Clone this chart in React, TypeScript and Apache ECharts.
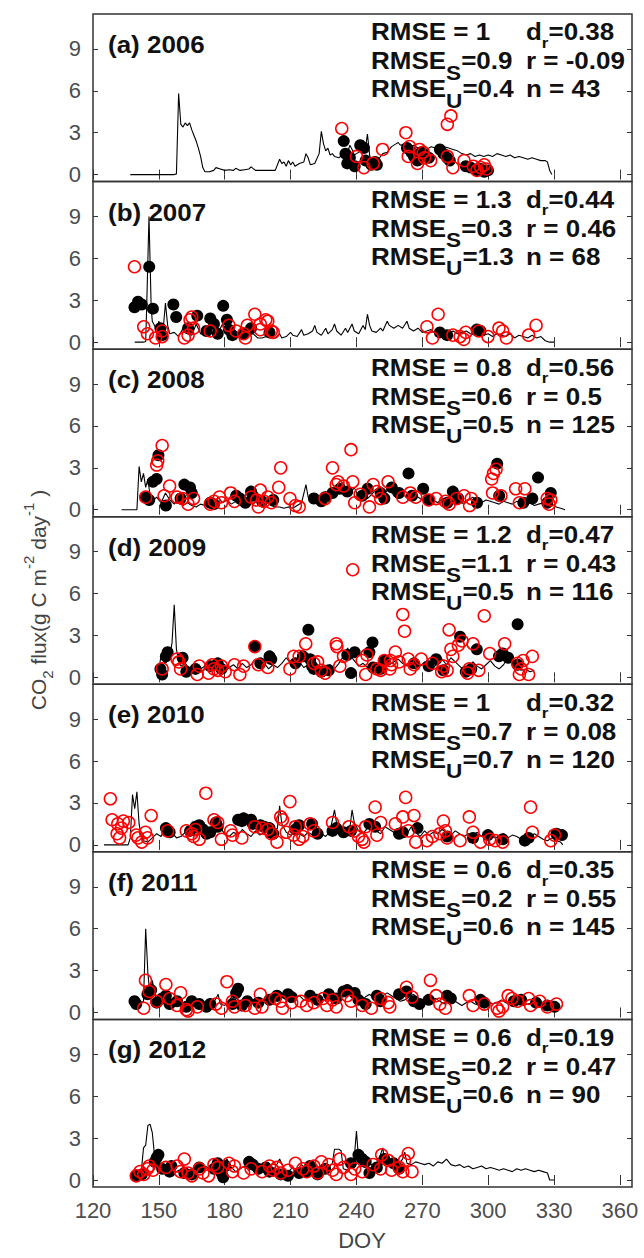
import React, { useEffect, useRef } from "react";
import * as echarts from "echarts";

const FONT = '"Liberation Sans", Arial, Helvetica, sans-serif';

const panelLabels = ["(a) 2006", "(b) 2007", "(c) 2008", "(d) 2009", "(e) 2010", "(f) 2011", "(g) 2012"];
const xTicks = [120, 150, 180, 210, 240, 270, 300, 330, 360];
const yTicks = [0, 3, 6, 9];

const statRMSE = ["1", "1.3", "0.8", "1.2", "1", "0.6", "0.6"];
const statRMSES = ["0.9", "0.3", "0.6", "1.1", "0.7", "0.2", "0.2"];
const statRMSEU = ["0.4", "1.3", "0.5", "0.5", "0.7", "0.6", "0.6"];
const statDr = ["0.38", "0.44", "0.56", "0.47", "0.32", "0.35", "0.19"];
const statR = ["-0.09", "0.46", "0.5", "0.43", "0.08", "0.55", "0.47"];
const statN = ["43", "68", "125", "116", "120", "145", "90"];

// ---------- 2006 ----------
const line2006 = [[137,0],[157,0],[158,0.05],[159,5.8],[160,3.6],[161,3.4],[162,3.7],[163,3.5],[164,3.7],[165,3.2],[166,2.8],[167,2.4],[168,1.9],[169,1.3],[170,0.5],[171,0.2],[173,0.2],[175,0.3],[176,0.5],[178,0.4],[180,0.3],[182,0.35],[184,0.3],[185,0.45],[187,0.3],[189,0.35],[191,0.4],[192,0.55],[194,0.3],[197,0.3],[200,0.3],[203,0.3],[205,1.1],[206,0.8],[207,0.9],[208,0.6],[209,1.0],[210,0.7],[211,0.9],[212,0.6],[214,0.8],[216,0.9],[217,1.5],[218,1.2],[219,0.7],[221,0.8],[223,1.5],[224,3.1],[225,2.2],[226,1.7],[227,1.9],[228,1.4],[229,1.5],[230,1.3],[232,1.2],[234,1.5],[236,1.6],[237,2.1],[238,1.8],[239,1.4],[240,1.5],[242,1.7],[244,1.8],[245,2.9],[246,1.4],[247,0.6],[248,0.9],[250,1.1],[252,1.5],[254,1.6],[256,2.0],[258,2.2],[259,2.3],[260,2.1],[262,2.2],[264,2.0],[266,2.1],[268,1.9],[270,2.0],[272,1.8],[274,2.0],[276,1.9],[278,1.8],[280,2.0],[282,1.9],[284,1.8],[286,1.7],[288,1.5],[290,1.4],[292,1.5],[294,1.3],[296,1.4],[298,1.3],[300,1.4],[302,1.3],[304,1.5],[306,1.4],[308,1.3],[310,1.4],[312,1.2],[314,1.3],[316,1.2],[318,1.1],[320,1.2],[322,1.1],[324,1.0],[326,1.0],[327,0.9],[328,0.3],[329,0]];
const black2006 = [[234.2,2.4],[235,1.5],[235.8,0.8],[237,1.2],[239.2,0.6],[241.7,2.1],[243.4,1.9],[244.2,1.0],[246.8,0.7],[248.5,0.9],[249.3,0.7],[263,1.9],[265,1.6],[266.2,1.3],[267.8,1.0],[269.5,1.6],[271,1.4],[273,1.2],[278,1.8],[279.6,1.5],[281.3,1.2],[282.5,1.0],[289.8,0.6],[292,0.5],[294.8,0.3],[296.5,0.4],[298.2,0.2],[299.9,0.3]];
const red2006 = [[233.3,3.3],[240,1.3],[243.4,0.5],[247.6,0.8],[251.9,1.8],[262.5,3.0],[264.2,2.0],[263.6,1.3],[267.8,0.8],[268.7,1.8],[270.4,1.6],[273.8,1.0],[271,1.2],[281.4,3.6],[283,4.2],[281.4,1.3],[283.9,0.5],[289,1.0],[293.2,0.6],[294.9,0.3],[296.6,0.5],[298.2,0.7],[299.1,0.4]];

// ---------- 2007 ----------
const line2007 = [[139,0],[143,0],[144,0.05],[144.5,2.8],[145.5,9.0],[146.5,2.5],[147,1.5],[148,1.2],[149,0.8],[150,1.5],[151,0.7],[152,1.0],[153,2.8],[154,1.2],[155,0.6],[157,0.7],[159,0.4],[161,1.0],[163,0.6],[165,0.5],[167,1.3],[169,0.6],[171,0.5],[173,0.8],[175,0.5],[177,0.7],[179,1.3],[181,0.6],[183,0.9],[185,0.6],[187,0.5],[189,0.7],[191,0.5],[193,0.6],[195,0.3],[197,0.3],[199,0.4],[201,0.3],[203,0.3],[205,0.6],[206,0.3],[208,0.4],[210,0.7],[211,0.5],[213,0.4],[215,0.9],[216,0.5],[218,0.6],[220,0.8],[221,1.2],[222,0.7],[224,0.5],[226,1.0],[227,0.6],[229,0.9],[230,1.3],[231,0.8],[233,0.5],[235,1.0],[236,0.7],[238,1.3],[239,0.8],[241,0.6],[243,1.2],[244,0.9],[245,2.0],[246,1.2],[247,0.8],[249,0.7],[251,1.0],[252,0.8],[254,1.5],[255,1.2],[257,1.0],[259,1.2],[261,1.0],[263,1.5],[264,1.0],[266,0.8],[268,1.0],[270,0.7],[272,0.8],[274,0.9],[276,0.6],[278,0.8],[280,0.7],[282,0.6],[284,0.8],[286,0.6],[288,0.7],[290,0.8],[292,0.6],[294,0.5],[296,0.7],[298,0.5],[300,0.6],[302,0.4],[304,0.6],[306,0.5],[308,0.4],[310,0.6],[312,0.3],[314,0.5],[316,0.4],[318,0.3],[320,0.5],[322,0.3],[324,0.4],[326,0.1],[328,0],[330,0]];
const black2007 = [[138.9,2.5],[140.5,2.9],[142.2,2.7],[145.6,5.4],[147.3,2.4],[150.7,1.0],[151.5,0.5],[156.6,2.7],[157.9,1.8],[163.3,1.0],[167.5,1.9],[171.7,0.8],[173.4,1.7],[175.1,1.3],[176.8,0.6],[179.3,2.6],[181,1.6],[181.9,0.9],[183.5,0.5],[188.6,0.6],[192,1.0],[200.4,0.7],[278,0.7],[281.3,0.5],[294.8,0.9],[296.5,0.8]];
const red2007 = [[138.9,5.4],[143.1,1.1],[144.8,0.6],[148.5,0.3],[151.5,0.4],[151.5,0.8],[161.6,0.3],[163.3,0.5],[164.2,1.6],[165,1.8],[165.8,1.0],[173.4,0.8],[181.9,1.2],[185.2,0.8],[188.6,0.6],[189.4,0.3],[190.3,1.2],[193.7,2.0],[196.2,1.3],[196.2,0.9],[198.7,1.6],[199.6,1.5],[201.2,0.8],[202.1,0.7],[272.1,1.1],[274.6,0.3],[277.2,2.0],[283.9,0.5],[287.2,0.4],[288.9,0.2],[289.8,0.7],[295.7,0.8],[299.9,0.4],[304.9,1.0],[306.6,0.8],[308.3,0.3],[318.4,0.5],[321.8,1.2]];

// ---------- 2008 ----------
const line2008 = [[133,0],[140,0],[141,3.1],[142,2.0],[143,2.6],[144,1.6],[145,2.2],[146,1.0],[147,0.6],[149,0.9],[151,0.5],[153,1.2],[155,0.7],[157,0.4],[159,0.8],[161,0.3],[163,0.5],[165,0.3],[167,0.2],[169,0.4],[171,0.3],[173,0.6],[175,0.4],[177,0.9],[179,0.5],[181,0.7],[183,0.4],[185,0.6],[187,0.3],[189,0.8],[191,0.5],[193,0.4],[195,0.7],[197,0.3],[199,0.6],[201,0.3],[203,0.2],[205,0.2],[207,0.1],[209,0.2],[211,0.1],[213,0.3],[215,0.5],[217,1.8],[218,0.9],[220,0.7],[222,1.0],[224,0.8],[226,1.3],[228,0.9],[230,1.5],[232,1.2],[234,2.0],[235,1.4],[237,1.1],[239,1.6],[241,0.9],[243,1.3],[245,0.8],[247,1.1],[249,1.5],[251,0.9],[253,1.2],[255,1.6],[257,1.0],[259,0.8],[261,1.1],[263,0.9],[265,0.7],[267,1.0],[269,0.8],[271,0.6],[273,0.9],[275,0.7],[277,0.5],[279,0.8],[281,0.6],[283,0.7],[285,0.5],[287,0.6],[289,0.4],[291,0.7],[293,0.9],[295,0.6],[297,0.5],[299,0.7],[301,0.6],[303,0.5],[305,0.4],[307,0.6],[309,0.5],[311,0.4],[313,0.6],[315,0.5],[317,0.4],[319,0.5],[321,0.3],[323,0.4],[325,0.5],[327,0.3],[329,0.4],[331,0.2],[333,0.1],[335,0]];
const black2008 = [[144,0.9],[145.6,0.7],[147.3,2.0],[149,2.2],[149.8,3.9],[153.2,0.3],[159.9,0.8],[161.6,1.8],[164.2,1.6],[165,1.2],[173.4,0.5],[175.1,0.4],[185.2,1.0],[186.9,0.8],[189.4,0.5],[192,1.3],[192.8,1.0],[197,0.6],[202.1,0.7],[220.6,0.8],[224,0.6],[225.7,0.9],[229.1,1.2],[232.5,1.5],[235.8,1.3],[242.6,1.0],[245.1,1.5],[251,1.2],[252.7,0.8],[256.1,1.6],[259.4,1.2],[263.7,2.6],[265.3,1.0],[270.4,1.5],[272.9,0.7],[281.4,0.5],[283.9,1.3],[286.4,0.8],[294.9,0.5],[304.1,3.3],[305,1.0],[316,0.5],[320.1,0.8],[322.7,2.3],[326.9,0.5],[328.5,1.2]];
const red2008 = [[144,0.9],[149,3.2],[149.5,3.5],[151.5,4.6],[152.4,1.0],[154.9,1.7],[158.3,0.9],[160.8,0.8],[163.3,0.4],[165.8,0.8],[173.4,0.4],[175.1,0.6],[177.6,0.9],[178.5,0.5],[182.7,1.2],[184.4,0.6],[192,0.9],[194.5,0.7],[195.3,0.2],[196.2,1.4],[197.9,0.6],[199.6,0.9],[201.2,0.5],[204.6,1.6],[205.5,3.0],[209.7,0.8],[212.2,0.3],[213.9,0.2],[225.7,0.8],[229.1,3.0],[230.8,1.8],[231.6,2.0],[234.1,1.7],[237.5,4.3],[238.3,2.0],[239.2,0.5],[241.7,1.1],[245.9,0.2],[247.6,1.8],[249.3,1.3],[251,0.8],[254.4,2.0],[261.1,0.9],[264.5,1.2],[267,0.9],[272.9,0.7],[276.3,0.8],[280.5,0.6],[282.2,0.4],[285.6,0.8],[289,1.0],[291.5,0.3],[292.3,0.8],[301.6,2.2],[302,1.2],[302.4,2.6],[303.6,2.9],[305.8,1.0],[312.5,1.5],[314.2,0.5],[316.7,1.5],[326.9,0.8],[327.7,0.4],[328.5,0.7]];

// ---------- 2009 ----------
const line2009 = [[149,0.3],[150,0.5],[151,1.6],[152,1.2],[153,1.0],[155,1.4],[156,2.5],[157,5.2],[158,2.0],[159,1.2],[160,0.8],[162,1.0],[164,0.6],[166,0.8],[168,0.5],[170,0.7],[172,0.9],[174,0.6],[176,0.8],[178,0.5],[180,0.4],[182,0.7],[184,0.9],[186,0.6],[188,1.0],[190,0.7],[192,0.9],[194,1.3],[196,0.8],[198,1.0],[200,0.6],[202,0.9],[204,0.7],[206,1.0],[208,1.4],[210,1.0],[212,0.8],[214,1.1],[216,0.7],[218,0.9],[220,0.6],[222,0.8],[224,0.5],[226,0.7],[228,0.9],[230,0.6],[232,1.0],[234,1.5],[236,2.1],[237,1.6],[239,1.2],[241,0.8],[243,1.0],[245,0.7],[247,0.9],[249,0.6],[251,0.8],[253,1.2],[255,0.9],[257,1.1],[259,1.3],[261,1.0],[263,0.8],[265,1.2],[267,1.0],[269,0.8],[271,1.1],[273,0.9],[275,0.7],[277,1.0],[279,1.3],[281,0.9],[283,1.4],[285,1.1],[287,0.8],[289,0.5],[291,0.7],[293,1.1],[295,0.8],[297,0.6],[299,0.9],[301,1.2],[303,0.8],[305,0.6],[307,0.9],[309,1.4],[311,1.0],[313,0.7],[315,0.5],[317,0.6],[319,0.4],[321,0.5]];
const black2009 = [[150.7,0.6],[151.5,0.2],[153.2,1.5],[154,1.8],[160.8,1.4],[162.5,0.4],[166.7,0.6],[173.4,0.8],[176.8,1.0],[178.5,0.6],[193.7,2.2],[196.2,1.0],[200.4,1.5],[201.2,1.3],[212.2,1.0],[215.6,1.5],[218.1,3.4],[218.9,1.3],[219.8,0.8],[220.6,0.6],[224,0.4],[227.4,0.5],[235.8,1.6],[237.5,0.3],[239.2,1.8],[245.9,1.8],[247.3,2.5],[247.6,0.7],[251,0.6],[252.7,1.2],[266.2,1.0],[272.9,0.8],[276.3,1.3],[279.6,0.5],[287.2,2.9],[289.8,0.4],[292.3,0.6],[294.8,2.0],[304.9,1.5],[306.6,1.7],[309.1,1.4],[313.4,3.8],[313.4,0.9]];
const red2009 = [[151.5,0.6],[158.3,1.3],[159.1,1.1],[159.9,0.6],[167.5,0.2],[168.4,0.8],[172.6,0.3],[174.3,0.9],[175.1,0.6],[176.8,0.5],[178.5,0.8],[180.2,0.4],[184.4,0.9],[186.9,0.2],[188.6,0.8],[193.7,2.2],[195.3,0.9],[199.6,0.7],[209.7,0.6],[211.4,1.5],[213.9,1.5],[216.9,2.4],[220.6,1.0],[222.3,1.1],[224,0.5],[225.7,0.3],[230.8,2.4],[231.1,2.2],[232.4,0.8],[234.1,1.5],[238.3,7.7],[242.6,1.2],[244.2,0.2],[244.8,1.6],[249.3,0.6],[251,0.5],[252.7,1.2],[255.2,0.6],[255.5,1.2],[256,0.9],[257.7,1.8],[259.4,1.1],[261.1,4.5],[261.9,3.3],[263.6,1.3],[264.5,0.6],[266.2,0.9],[269.5,1.3],[274.6,1.0],[278.8,0.4],[279.6,0.8],[281.3,0.5],[282.2,3.4],[283,2.0],[283.9,1.5],[286.4,2.3],[288.1,2.6],[290.6,0.3],[291.4,0.6],[293.1,2.4],[295.7,0.5],[298.2,4.4],[300.7,1.7],[307.5,2.4],[313.4,1.0],[314.2,0.2],[315,0.6],[315.9,1.2],[318.4,0.2],[320.1,1.5]];

// ---------- 2010 ----------
const line2010 = [[125,0],[136,0],[137,0.5],[138,3.6],[139,2.6],[140,3.8],[141,1.5],[142,0.6],[143,0.3],[145,0.2],[147,0.5],[149,0.8],[151,0.6],[153,1.3],[154,1.0],[156,0.9],[158,0.5],[160,0.6],[162,0.9],[164,0.7],[166,1.2],[168,0.8],[170,1.0],[172,1.3],[174,0.7],[176,1.6],[178,1.2],[180,0.8],[182,0.6],[184,0.9],[186,0.7],[188,1.1],[190,0.8],[192,0.6],[194,1.0],[196,0.7],[198,0.9],[200,0.5],[202,0.8],[204,1.2],[205,2.8],[206,1.5],[208,0.9],[210,0.7],[212,1.0],[214,0.8],[216,0.6],[218,0.9],[220,0.7],[222,0.5],[224,0.8],[226,0.6],[228,1.0],[230,2.5],[231,1.5],[233,0.9],[235,0.7],[237,1.2],[238,2.5],[239,1.6],[241,1.0],[243,0.8],[245,1.2],[247,1.5],[249,1.0],[251,0.8],[253,1.3],[255,1.1],[257,0.9],[259,0.7],[261,1.0],[263,0.8],[265,1.3],[267,0.9],[269,0.6],[271,1.0],[273,0.7],[275,0.9],[277,0.8],[279,1.1],[281,0.9],[283,0.7],[285,1.0],[287,0.8],[289,0.6],[291,0.8],[293,0.7],[295,0.9],[297,0.6],[299,0.8],[301,0.7],[303,0.5],[305,0.6],[307,0.8],[309,0.5],[311,0.7],[313,0.6],[315,0.4],[317,0.6],[319,0.5],[321,0.8],[323,0.6],[325,0.4],[327,0.3],[329,0.5],[331,0.3],[333,0.2],[334,0]];
const black2010 = [[153.2,1.2],[154,1.0],[154.9,0.9],[164.2,1.0],[166.7,1.3],[168.4,1.4],[170.1,1.1],[171.7,0.8],[173.4,0.9],[176,1.6],[176.8,1.3],[186.1,1.8],[187.8,1.7],[188.6,1.9],[192,1.8],[192.8,1.5],[196.2,1.4],[197.9,1.3],[200.4,1.2],[202.1,0.8],[212.2,1.1],[213.9,1.4],[219.8,1.5],[222.3,0.8],[229.1,1.0],[230.8,1.2],[234.1,0.9],[237.5,1.0],[245.9,1.5],[248.5,1.3],[259.4,0.8],[261.1,0.9],[267.8,1.2],[281.3,0.6],[293.1,0.5],[299.9,0.7],[306.6,0.4],[316.7,0.3],[318.4,0.5],[331.1,0.8],[333.6,0.7]];
const red2010 = [[127.9,3.3],[128.7,1.8],[131.3,1.5],[131,0.8],[132.1,0.5],[133,1.2],[133.8,1.7],[136.3,1.6],[139.7,0.7],[140.5,0.5],[142.2,0.2],[143.9,0.9],[144.8,0.5],[146.5,2.1],[154,1.0],[162.5,1.0],[165,0.8],[165.8,0.6],[166.7,1.1],[168.4,0.4],[171.4,3.7],[175.1,1.8],[176.8,1.6],[178.5,0.4],[182.7,1.0],[183.5,0.7],[187.8,0.5],[193.7,1.3],[197,1.2],[199.6,1.1],[201.2,0.8],[203.8,0.2],[205.5,2.0],[206.3,1.8],[208,0.9],[209.7,3.1],[211.4,0.7],[212.2,1.3],[213.9,0.4],[215.6,0.6],[218.9,1.5],[220.6,1.0],[229.1,1.6],[236.6,1.3],[239.2,1.0],[240.9,0.6],[242.6,0.4],[243.4,0.2],[244.2,1.3],[248.5,2.7],[249.3,0.7],[251,1.6],[257.7,1.5],[261.1,2.0],[262.4,3.4],[263.6,1.0],[266.2,2.1],[267,0.2],[272.1,0.3],[274.6,0.6],[278,0.8],[279.6,1.7],[280.5,1.0],[281.3,0.5],[287.2,0.3],[291.4,2.0],[293.1,0.9],[296.5,0.2],[300.7,0.4],[303.2,0.3],[306.6,0.2],[319.3,2.7],[320.1,0.9],[328.5,0.3],[330.2,0.7]];

// ---------- 2011 ----------
const line2011 = [[137,0.7],[139,0.5],[141,0.6],[143,0.8],[144,6.0],[145,2.8],[146,1.2],[147,2.3],[148,1.5],[149,0.9],[151,1.2],[153,0.7],[155,0.9],[157,0.5],[159,0.7],[161,0.4],[163,0.6],[165,0.5],[167,0.8],[169,0.4],[171,0.6],[173,0.5],[175,0.7],[177,1.3],[178,0.6],[180,0.5],[182,0.8],[184,1.4],[186,0.9],[188,0.7],[190,0.6],[192,0.8],[194,1.0],[196,0.7],[198,0.9],[200,1.2],[202,1.0],[204,0.8],[206,1.1],[208,0.9],[210,0.7],[212,1.0],[214,1.2],[216,0.9],[218,0.8],[220,1.1],[222,1.3],[224,1.0],[226,0.8],[228,1.4],[230,1.1],[232,0.9],[234,1.5],[236,1.6],[238,1.2],[240,1.0],[242,0.8],[244,1.1],[246,1.3],[248,1.0],[250,0.9],[252,1.2],[254,1.4],[256,1.2],[258,1.0],[260,0.8],[262,0.9],[264,1.1],[266,1.3],[268,1.0],[270,0.8],[272,0.7],[274,0.9],[276,1.0],[278,0.8],[280,0.6],[282,0.8],[284,0.9],[286,0.7],[288,0.5],[290,0.7],[292,0.8],[294,0.6],[296,0.5],[298,0.7],[300,0.8],[302,0.6],[304,0.7],[306,0.9],[308,0.7],[310,0.6],[312,0.8],[314,0.7],[316,0.5],[318,0.6],[320,0.7],[322,0.5],[324,0.6],[326,0.4],[328,0.5],[330,0.3],[332,0.2]];
const black2011 = [[138.9,0.8],[139.7,0.6],[144.8,1.3],[146.5,1.6],[149,0.7],[151.5,1.0],[153.2,1.2],[154.9,0.6],[158.3,0.8],[162.5,0.4],[165,0.8],[168.4,0.6],[171.7,0.4],[173.4,0.6],[183.5,0.6],[185.2,1.4],[186.1,1.7],[187.8,0.5],[190.3,0.8],[195.3,0.7],[200.4,0.9],[203.8,1.2],[208.8,1.3],[210.5,1.1],[218.9,1.2],[222.3,0.9],[227.4,1.3],[230.8,1.0],[234.1,1.5],[235.8,1.6],[239.2,1.4],[240.9,0.9],[244.2,0.6],[249.3,1.2],[251,0.8],[259.4,1.3],[262.8,1.5],[266.2,0.8],[268.7,0.6],[272.9,0.9],[281.3,1.2],[283,1.0],[296.5,0.9],[298.2,0.7],[311.7,0.8],[315,0.9],[321.8,0.7],[326.9,0.5],[330.2,0.4]];
const red2011 = [[143.1,0.3],[143.9,2.3],[145.6,1.5],[149,0.8],[153.2,2.0],[154.9,1.0],[158.3,0.5],[159.9,1.4],[162.5,0.2],[163.3,0.1],[167.5,0.4],[176,0.6],[178.5,0.3],[181,2.2],[183.5,0.8],[184.4,0.4],[189.4,0.5],[193.7,0.3],[196.2,1.3],[197,0.4],[202.9,1.0],[205.5,0.8],[206.3,0.3],[210.5,0.7],[214.7,0.8],[217.3,0.5],[220.6,0.7],[224.8,1.0],[226.5,0.5],[229.1,0.9],[230.8,0.4],[235.8,1.2],[237.5,0.8],[242.6,0.5],[246.8,0.3],[251,1.0],[254.4,0.7],[255.2,0.4],[262.8,1.8],[265.3,1.1],[273.7,2.3],[276.3,1.2],[278,0.6],[280.5,0.3],[291.4,1.2],[293.1,0.5],[298.2,0.6],[304.1,0.3],[304.9,0.1],[306.6,0.4],[309.1,1.2],[310.8,1.0],[313.4,0.8],[318.4,1.0],[319.3,0.5],[323.5,0.8],[326.9,0.4],[331.1,0.6]];

// ---------- 2012 ----------
const line2012 = [[138,0.2],[140,0.4],[142,0.6],[143,2.3],[144,2.5],[145,3.9],[146,4.0],[147,3.4],[148,1.8],[149,1.2],[151,0.8],[153,0.6],[155,0.9],[157,0.5],[159,0.7],[161,0.4],[163,0.6],[165,0.8],[167,0.5],[169,0.7],[171,1.0],[173,0.8],[175,1.3],[177,0.9],[179,0.7],[181,1.5],[183,0.9],[185,0.6],[187,0.8],[189,1.0],[191,0.7],[193,0.9],[195,0.6],[197,0.8],[199,1.1],[201,0.7],[203,0.9],[205,1.5],[207,0.8],[209,0.6],[211,0.9],[213,0.7],[215,1.1],[217,0.8],[219,0.6],[221,0.9],[223,0.7],[225,0.5],[227,0.8],[229,1.2],[230,2.2],[232,2.2],[233,2.1],[234,0.8],[236,0.7],[238,1.0],[239,1.6],[240,3.5],[241,1.4],[242,1.0],[244,0.9],[246,1.2],[248,1.0],[250,1.4],[252,2.3],[253,1.2],[255,1.0],[257,1.3],[259,1.1],[261,1.5],[262,2.0],[263,1.2],[265,1.1],[267,1.3],[269,1.2],[271,1.1],[273,1.2],[275,1.0],[277,1.3],[279,1.2],[281,1.5],[283,1.1],[285,1.0],[287,1.1],[289,0.9],[291,1.0],[293,0.8],[295,0.9],[297,1.0],[299,0.8],[301,0.9],[303,0.8],[305,0.7],[307,0.8],[309,0.7],[311,0.6],[313,0.8],[315,0.7],[317,0.8],[319,0.7],[321,0.6],[323,0.7],[325,0.6],[327,0.5],[328,0],[330,0]];
const black2012 = [[139.7,0.3],[142.2,0.4],[148.1,1.3],[149,1.6],[149.8,1.8],[151.5,0.8],[154.9,0.6],[155.7,1.0],[161.6,0.5],[165,0.4],[168.4,0.9],[175.1,0.8],[176.8,1.2],[178.5,0.5],[179.3,0.2],[180.2,1.0],[191.1,1.3],[192.8,1.1],[195.3,0.8],[198.7,0.9],[200.4,0.6],[205.5,0.4],[208.8,0.3],[213.9,0.5],[217.3,0.6],[218.9,1.0],[222.3,0.4],[225.7,0.8],[237.5,1.2],[240.9,1.8],[242.6,1.5],[244.2,1.3],[245.9,0.5],[249.3,0.9],[252.7,1.5],[256.9,1.2],[259.4,0.8]];
const red2012 = [[139.7,0.3],[141.4,0.6],[143.1,0.4],[144.8,0.8],[145.6,1.0],[147.3,0.7],[153.2,0.9],[158.3,1.0],[159.9,0.6],[161.6,1.5],[163.3,0.5],[165,0.3],[168.4,0.8],[170.1,0.5],[172.6,0.3],[175.1,1.1],[176.8,0.9],[181.9,1.2],[183.5,0.6],[184.4,1.0],[188.6,0.5],[192,0.8],[197,0.6],[200.4,1.0],[202.1,0.7],[203.8,0.9],[205.5,0.5],[208.8,0.7],[212.2,1.2],[215.6,0.8],[217.3,0.6],[220.6,1.0],[222.3,0.5],[224,1.3],[227.4,1.1],[229.1,0.7],[230.8,0.4],[232.4,1.5],[234.1,0.9],[237.5,0.4],[239.2,0.8],[242.6,0.6],[247.6,1.1],[251,0.8],[251.5,1.8],[254.4,1.4],[256,0.7],[259.4,0.9],[261.1,0.6],[261.9,1.4],[263.6,1.9],[265.3,0.6]];

const modelLines = [line2006, line2007, line2008, line2009, line2010, line2011, line2012];
const blackObs = [black2006, black2007, black2008, black2009, black2010, black2011, black2012];
const redObs = [red2006, red2007, red2008, red2009, red2010, red2011, red2012];

const PANEL_TOP = 14;
const PANEL_H = 167.57;
const LEFT = 93;
const WIDTH = 539;
const FRAME = "#333333";
const TICKTXT = "#4d4d4d";
const TXT_SCALE_X = 1.13;

function buildOption() {
  const grid: any[] = [];
  const xAxis: any[] = [];
  const yAxis: any[] = [];
  const series: any[] = [];
  const graphic: any[] = [];

  const mainTok = { fontSize: 23, fontWeight: "bold", fontFamily: FONT, fill: "#111", lineHeight: 20, verticalAlign: "top" };
  const subTok = { fontSize: 20, fontWeight: "bold", fontFamily: FONT, fill: "#111", lineHeight: 15, padding: [13, 0, 0, 0], verticalAlign: "top" };
  const smallSub = { fontSize: 15, fontWeight: "bold", fontFamily: FONT, fill: "#111", lineHeight: 14, padding: [14, 0, 0, 0], verticalAlign: "top" };
  const rich = { m: mainTok, s: subTok, r: smallSub };

  for (let i = 0; i < 7; i++) {
    const top = PANEL_TOP + i * PANEL_H;
    grid.push({ left: LEFT, top, width: WIDTH, height: PANEL_H, show: true, borderColor: FRAME, borderWidth: 1.5, backgroundColor: "transparent" });
    const tickStyle = { inside: true, length: 5, customValues: xTicks, lineStyle: { color: FRAME, width: 1 } };
    xAxis.push({
      gridIndex: i, type: "value", min: 120, max: 365.5, position: "bottom",
      axisLine: { show: false }, splitLine: { show: false },
      axisTick: tickStyle,
      axisLabel: { show: i === 6, customValues: xTicks, fontSize: 22, color: TICKTXT, fontFamily: FONT, margin: 13 },
    });
    xAxis.push({
      gridIndex: i, type: "value", min: 120, max: 365.5, position: "top",
      axisLine: { show: false }, splitLine: { show: false },
      axisTick: tickStyle, axisLabel: { show: false },
    });
    const yTickStyle = { inside: true, length: 5, customValues: yTicks, lineStyle: { color: FRAME, width: 1 } };
    yAxis.push({
      gridIndex: i, type: "value", min: -0.5, max: 11.5, position: "left",
      axisLine: { show: false }, splitLine: { show: false },
      axisTick: yTickStyle,
      axisLabel: { customValues: yTicks, fontSize: 22, color: TICKTXT, fontFamily: FONT, margin: 12 },
    });
    yAxis.push({
      gridIndex: i, type: "value", min: -0.5, max: 11.5, position: "right",
      axisLine: { show: false }, splitLine: { show: false },
      axisTick: yTickStyle, axisLabel: { show: false },
    });

    series.push({
      type: "line", xAxisIndex: 2 * i, yAxisIndex: 2 * i, data: modelLines[i],
      showSymbol: false, symbol: "none", lineStyle: { color: "#000", width: 1.1 }, z: 1, silent: true,
    });
    series.push({
      type: "scatter", xAxisIndex: 2 * i, yAxisIndex: 2 * i, data: blackObs[i],
      symbol: "circle", symbolSize: 12, itemStyle: { color: "#000", opacity: 1 }, z: 2, silent: true,
    });
    series.push({
      type: "scatter", xAxisIndex: 2 * i, yAxisIndex: 2 * i, data: redObs[i],
      symbol: "circle", symbolSize: 12,
      itemStyle: { color: "rgba(0,0,0,0)", borderColor: "#ff0000", borderWidth: 1.5, opacity: 1 }, z: 3, silent: true,
    });

    graphic.push({
      type: "text", x: 108, y: top + 31, z: 10, scaleX: TXT_SCALE_X,
      style: { text: panelLabels[i], fontSize: 23, fontWeight: "bold", fontFamily: FONT, fill: "#111", align: "left", verticalAlign: "middle" },
    });
    const rows = [
      [`{m|RMSE = ${statRMSE[i]}}`, `{m|d}{r|r}{m|=${statDr[i]}}`],
      [`{m|RMSE}{s|S}{m|=${statRMSES[i]}}`, `{m|r = ${statR[i]}}`],
      [`{m|RMSE}{s|U}{m|=${statRMSEU[i]}}`, `{m|n = ${statN[i]}}`],
    ];
    const centers = [17, 46, 74];
    rows.forEach((row, k) => {
      graphic.push({ type: "text", x: 371, y: top + centers[k] - 10, z: 10, scaleX: TXT_SCALE_X, style: { text: row[0], rich, align: "left", verticalAlign: "top" } });
      graphic.push({ type: "text", x: 526, y: top + centers[k] - 10, z: 10, scaleX: TXT_SCALE_X, style: { text: row[1], rich, align: "left", verticalAlign: "top" } });
    });
  }

  graphic.push({
    type: "text", x: 33, y: 600, rotation: Math.PI / 2, z: 10,
    style: {
      text: "{m|CO}{b|2}{m| flux(g C m}{p|-2}{m| day}{p|-1}{m| )}",
      align: "center", verticalAlign: "middle",
      rich: {
        m: { fontSize: 21, fontFamily: FONT, fill: "#444", lineHeight: 24, padding: [7, 0, 0, 0], verticalAlign: "top" },
        b: { fontSize: 15, fontFamily: FONT, fill: "#444", lineHeight: 18, padding: [19, 0, 0, 0], verticalAlign: "top" },
        p: { fontSize: 15, fontFamily: FONT, fill: "#444", lineHeight: 18, padding: [0, 0, 0, 0], verticalAlign: "top" },
      },
    },
  });
  graphic.push({
    type: "text", x: 362, y: 1240, z: 10,
    style: { text: "DOY", fontSize: 22, fontFamily: FONT, fill: "#444", align: "center", verticalAlign: "middle" },
  });

  return { animation: false, backgroundColor: "#fff", grid, xAxis, yAxis, series, graphic };
}

export default function App() {
  const ref = useRef<HTMLDivElement>(null);
  useEffect(() => {
    if (!ref.current) return;
    const chart = echarts.init(ref.current, undefined, { renderer: "svg" });
    chart.setOption(buildOption() as any);
    return () => chart.dispose();
  }, []);
  return <div ref={ref} style={{ position: "absolute", left: 0, top: 0, width: 644, height: 1258, background: "#fff" }} />;
}
